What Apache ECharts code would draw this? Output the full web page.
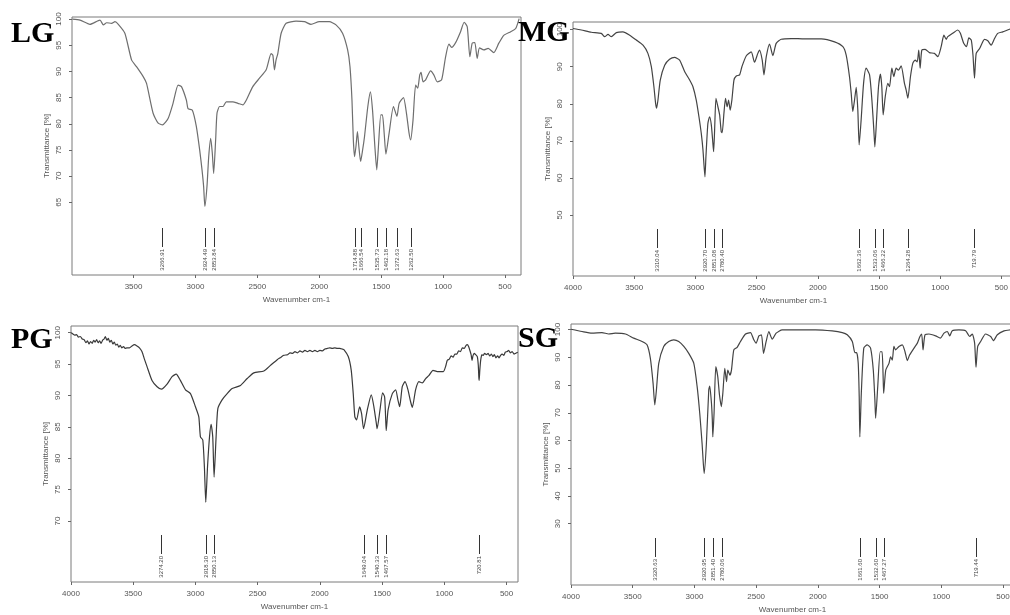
<!DOCTYPE html>
<html>
<head>
<meta charset="utf-8">
<script src="https://cdn.jsdelivr.net/npm/echarts@6/dist/echarts.min.js"></script>
<style>
html,body{margin:0;padding:0;background:#fff;}
#chart{width:1010px;height:615px;}
</style>
</head>
<body>
<div id="chart"></div>
<script>
// ---------- DATA ----------
const panelNames = ['LG', 'MG', 'PG', 'SG'];

const lgSpectrum = [[3994,100],[3932,99.8],[3852,99.0],[3771,99.8],[3744,98.9],[3717,99.3],[3677,99.2],[3650,99.5],[3623,99.0],[3570,97.3],[3516,92.2],[3476,90.9],[3422,89.0],[3395,87.7],[3342,82.0],[3301,80.1],[3265,79.8],[3221,81.0],[3181,83.9],[3140,87.4],[3113,87.1],[3073,84.5],[3060,82.9],[3025,82.6],[2993,79.5],[2966,75.0],[2947,71.2],[2934,68.0],[2924,64.2],[2907,68.0],[2893,73.7],[2877,77.2],[2864,74.4],[2853,70.5],[2837,76.9],[2826,82.0],[2805,83.3],[2778,83.3],[2751,84.2],[2698,84.2],[2657,83.9],[2617,83.6],[2590,84.5],[2537,87.1],[2483,88.7],[2429,90.3],[2389,93.4],[2375,93.1],[2362,90.3],[2349,92.2],[2335,93.4],[2308,97.3],[2268,99.2],[2188,99.6],[2120,99.5],[2067,99.0],[2000,99.5],[1919,99.5],[1865,98.9],[1812,97.3],[1771,94.1],[1752,90.9],[1736,84.5],[1725,76.9],[1715,73.7],[1704,75.6],[1692,78.5],[1680,75.5],[1666,72.8],[1650,75.0],[1635,77.5],[1608,83.3],[1587,86.1],[1570,82.6],[1551,75.6],[1536,71.2],[1524,75.0],[1503,81.7],[1490,81.7],[1476,78.2],[1462,74.2],[1436,78.2],[1401,83.3],[1373,81.4],[1355,83.9],[1320,85.0],[1296,82.0],[1275,78.2],[1262,76.9],[1243,80.7],[1222,87.4],[1205,86.8],[1189,89.3],[1178,89.8],[1162,88.0],[1141,88.4],[1101,90.1],[1074,89.3],[1047,88.0],[1012,88.4],[980,92.8],[953,95.2],[931,94.6],[899,95.5],[859,97.6],[830,99.4],[805,98.5],[784,92.8],[765,95.4],[744,95.5],[725,92.5],[706,94.5],[671,94.1],[636,94.4],[591,93.6],[550,95.4],[510,96.9],[454,97.6],[414,98.2],[386,100.1]];

const mgSpectrum = [[4000,100.3],[3932,99.9],[3850,99.3],[3769,99.0],[3741,98.1],[3714,98.7],[3687,98.1],[3646,99.2],[3592,99.4],[3537,98.5],[3483,97.2],[3428,95.8],[3388,93.6],[3360,90.0],[3339,84.6],[3325,80.1],[3317,78.8],[3306,81.0],[3287,86.4],[3251,90.4],[3211,92.0],[3170,92.5],[3129,91.8],[3088,88.7],[3047,86.4],[3020,84.6],[2993,81.0],[2971,76.5],[2952,72.0],[2938,67.5],[2922,60.3],[2914,65.7],[2898,74.7],[2884,76.5],[2870,74.3],[2857,69.3],[2851,67.1],[2843,72.9],[2832,81.5],[2816,79.2],[2802,77.0],[2789,72.5],[2781,72.2],[2767,77.4],[2754,81.5],[2741,79.2],[2729,81.0],[2716,78.3],[2702,81.0],[2685,86.4],[2666,87.5],[2639,87.8],[2620,90.0],[2585,92.9],[2544,94.0],[2517,91.2],[2490,93.6],[2476,94.5],[2454,91.8],[2440,87.8],[2421,92.7],[2394,96.1],[2367,93.0],[2340,96.3],[2299,97.4],[2217,97.6],[2108,97.5],[1972,97.5],[1863,96.7],[1795,95.4],[1768,93.1],[1741,87.3],[1727,82.8],[1714,77.9],[1700,81.0],[1686,84.4],[1673,78.3],[1662,68.9],[1646,75.6],[1626,85.5],[1605,89.6],[1577,87.8],[1558,81.0],[1542,72.9],[1534,68.4],[1520,75.6],[1504,84.6],[1488,88.0],[1477,84.6],[1466,77.0],[1449,81.9],[1428,85.5],[1414,84.6],[1395,89.6],[1379,87.3],[1360,89.6],[1341,89.1],[1319,90.2],[1292,85.5],[1278,83.7],[1264,81.5],[1243,87.3],[1224,90.9],[1205,91.8],[1188,91.3],[1175,94.5],[1164,89.6],[1150,94.5],[1123,94.7],[1088,93.8],[1047,93.6],[1019,92.7],[992,95.4],[970,98.5],[951,97.4],[938,98.1],[898,99.0],[857,99.9],[835,99.0],[808,96.3],[785,95.4],[766,97.8],[746,97.2],[732,93.1],[720,86.9],[706,93.6],[678,94.9],[638,97.4],[611,97.0],[584,95.8],[556,97.6],[530,99.0],[489,99.4],[434,100.1],[405,100.3]];

const pgSpectrum = [[4000,100.0],[3985,99.8],[3970,99.6],[3955,99.7],[3940,99.3],[3925,99.4],[3910,99.0],[3895,98.9],[3880,98.4],[3868,98.7],[3855,98.2],[3843,98.6],[3830,98.3],[3818,98.8],[3806,98.5],[3794,98.9],[3782,98.4],[3770,98.7],[3758,98.3],[3746,98.8],[3734,99.0],[3724,99.4],[3712,98.8],[3700,99.1],[3688,98.5],[3676,98.8],[3664,98.2],[3652,98.5],[3640,98.0],[3628,98.2],[3616,97.7],[3604,98.0],[3592,97.6],[3578,97.8],[3565,97.5],[3550,97.6],[3530,97.6],[3510,97.9],[3490,98.1],[3470,97.9],[3450,97.6],[3430,97.0],[3410,95.8],[3389,94.6],[3349,92.4],[3308,91.4],[3273,91.0],[3228,91.8],[3188,93.0],[3155,93.4],[3121,92.4],[3080,90.9],[3040,90.3],[3000,88.2],[2973,86.6],[2960,83.4],[2941,82.9],[2928,78.6],[2917,73.0],[2903,78.6],[2887,83.4],[2874,85.4],[2861,83.4],[2850,77.0],[2834,83.4],[2820,87.9],[2786,89.3],[2745,90.3],[2705,91.1],[2638,91.6],[2584,92.7],[2531,93.6],[2450,93.9],[2397,94.8],[2343,95.7],[2320,96.0],[2290,96.4],[2260,96.5],[2240,96.8],[2220,96.7],[2200,97.0],[2180,96.8],[2160,97.1],[2140,96.9],[2120,97.2],[2100,97.0],[2080,97.2],[2060,97.0],[2040,97.2],[2020,97.0],[2000,97.2],[1980,97.1],[1960,97.4],[1940,97.5],[1920,97.6],[1900,97.5],[1880,97.6],[1860,97.5],[1840,97.5],[1820,97.4],[1807,97.3],[1772,96.2],[1748,94.0],[1732,90.3],[1719,86.6],[1705,86.1],[1681,88.2],[1665,87.1],[1649,84.7],[1619,87.7],[1587,90.1],[1566,88.2],[1546,85.5],[1540,84.7],[1517,87.7],[1496,90.4],[1480,89.8],[1472,86.6],[1467,84.4],[1452,87.7],[1418,90.3],[1391,90.9],[1373,89.3],[1359,88.2],[1338,91.4],[1316,92.2],[1292,90.9],[1271,89.0],[1257,88.1],[1231,90.9],[1204,92.2],[1177,92.0],[1150,92.7],[1123,93.2],[1091,94.0],[1056,93.8],[1008,93.8],[990,94.6],[976,95.6],[960,95.8],[945,96.3],[930,96.1],[915,96.6],[900,96.6],[885,97.1],[870,97.0],[855,97.6],[840,97.5],[825,98.0],[815,98.1],[805,97.8],[795,97.2],[785,96.5],[777,95.6],[770,96.3],[760,96.7],[748,96.5],[735,96.2],[727,94.8],[723,93.0],[720,92.4],[715,94.0],[708,95.6],[698,96.5],[688,96.4],[676,96.7],[662,96.5],[648,96.7],[635,96.3],[622,96.6],[610,96.2],[598,96.5],[585,96.0],[572,96.3],[560,96.0],[548,96.4],[535,96.6],[522,96.4],[510,96.9],[495,97.0],[483,97.2],[470,96.8],[455,97.0],[440,96.6],[429,96.7],[410,96.9]];

const sgSpectrum = [[4000,100.1],[3911,99.3],[3830,98.7],[3749,98.9],[3695,98.4],[3641,98.7],[3559,98.4],[3492,96.9],[3424,95.7],[3384,94.5],[3357,89.6],[3335,80.6],[3321,72.8],[3308,78.2],[3289,87.8],[3249,93.9],[3208,95.7],[3167,96.3],[3127,95.7],[3086,93.9],[3046,91.4],[3005,87.8],[2978,79.4],[2957,69.8],[2938,58.9],[2928,51.7],[2921,48.1],[2903,58.9],[2884,78.2],[2876,79.6],[2862,73.4],[2855,67.3],[2851,61.3],[2841,69.8],[2827,86.6],[2811,83.0],[2797,76.4],[2782,72.2],[2770,77.0],[2754,86.0],[2740,81.2],[2730,85.4],[2713,83.6],[2700,85.4],[2681,92.7],[2654,93.6],[2627,95.7],[2586,98.4],[2546,98.9],[2519,96.3],[2500,95.1],[2478,97.7],[2457,98.1],[2440,91.4],[2419,95.7],[2397,99.3],[2370,96.5],[2338,98.7],[2289,99.9],[2181,99.9],[2019,99.9],[1884,99.5],[1802,98.9],[1762,98.1],[1721,95.7],[1700,91.7],[1686,91.7],[1673,87.8],[1665,75.8],[1660,61.3],[1648,77.0],[1628,93.3],[1600,94.5],[1573,93.3],[1551,85.4],[1538,74.6],[1532,68.0],[1515,79.4],[1495,92.0],[1480,92.0],[1472,84.2],[1467,77.0],[1450,85.4],[1424,87.8],[1411,90.2],[1397,89.0],[1384,93.9],[1370,92.7],[1343,93.9],[1316,94.5],[1294,92.0],[1275,88.8],[1257,90.8],[1221,93.3],[1194,95.1],[1173,97.5],[1159,98.4],[1148,92.7],[1132,98.1],[1100,98.4],[1046,97.7],[1008,96.9],[978,98.7],[951,99.3],[932,97.7],[911,99.6],[857,99.9],[803,99.6],[770,97.5],[749,98.4],[730,95.1],[719,86.4],[705,93.9],[681,95.7],[641,98.4],[600,97.5],[578,96.0],[546,98.1],[492,99.5],[438,99.9],[419,100.0]];

const lgPeaks = [3266.91, 2924.49, 2853.84, 1714.88, 1666.54, 1535.73, 1462.18, 1372.63, 1262.50];
const mgPeaks = [3310.04, 2920.70, 2851.08, 2780.40, 1662.36, 1533.06, 1466.22, 1264.28, 719.79];
const pgPeaks = [3274.20, 2918.30, 2850.13, 1649.04, 1540.33, 1467.57, 720.81];
const sgPeaks = [3320.63, 2920.95, 2851.40, 2780.06, 1661.60, 1532.60, 1467.27, 719.44];

const lgXTicks = [3500, 3000, 2500, 2000, 1500, 1000, 500];
const fullXTicks = [4000, 3500, 3000, 2500, 2000, 1500, 1000, 500];
const lgYTicks = [65, 70, 75, 80, 85, 90, 95, 100];
const mgYTicks = [50, 60, 70, 80, 90, 100];
const pgYTicks = [70, 75, 80, 85, 90, 95, 100];
const sgYTicks = [30, 40, 50, 60, 70, 80, 90, 100];

const xTitle = 'Wavenumber cm-1';
const yTitle = 'Transmittance [%]';

// ---------- LAYOUT ----------
const panels = [
  {name: panelNames[0], data: lgSpectrum, peaks: lgPeaks, xt: lgXTicks, yt: lgYTicks,
   grid: {left: 72, top: 17, width: 449, height: 258}, xmin: 371, xmax: 3997, ymin: 51.1, ymax: 100.4,
   color: '#6e6e6e', title: {x: 11, y: 34}},
  {name: panelNames[1], data: mgSpectrum, peaks: mgPeaks, xt: fullXTicks, yt: mgYTicks,
   grid: {left: 573, top: 22, width: 441, height: 254}, xmin: 397, xmax: 4000, ymin: 33.55, ymax: 102.06,
   color: '#444', title: {x: 518, y: 33}},
  {name: panelNames[2], data: pgSpectrum, peaks: pgPeaks, xt: fullXTicks, yt: pgYTicks,
   grid: {left: 71, top: 326, width: 447, height: 256}, xmin: 408, xmax: 4000, ymin: 60.28, ymax: 101.07,
   color: '#3a3a3a', title: {x: 11, y: 340}},
  {name: panelNames[3], data: sgSpectrum, peaks: sgPeaks, xt: fullXTicks, yt: sgYTicks,
   grid: {left: 571, top: 324, width: 443, height: 261}, xmin: 411, xmax: 4000, ymin: 7.9, ymax: 102.0,
   color: '#444', title: {x: 518, y: 339}}
];

const FONT = 'Liberation Sans';
const grids = [], xAxes = [], yAxes = [], series = [], graphics = [];
const plain = v => String(v);

panels.forEach((p, i) => {
  grids.push(Object.assign({show: true, borderColor: '#7a7a7a', borderWidth: 1, backgroundColor: 'transparent',
    containLabel: false, outerBoundsMode: 'none'}, p.grid));
  xAxes.push({
    type: 'value', gridIndex: i, inverse: true, min: p.xmin, max: p.xmax,
    axisLine: {show: false},
    axisTick: {show: true, length: 3, customValues: p.xt, lineStyle: {color: '#666'}},
    axisLabel: {customValues: p.xt, formatter: plain, fontSize: 8, color: '#555', margin: 8, fontFamily: FONT},
    splitLine: {show: false},
    name: xTitle, nameLocation: 'middle', nameGap: 21,
    nameTextStyle: {fontSize: 8, color: '#555', fontFamily: FONT}
  });
  yAxes.push({
    type: 'value', gridIndex: i, min: p.ymin, max: p.ymax,
    axisLine: {show: false},
    axisTick: {show: true, length: 3, customValues: p.yt, lineStyle: {color: '#666'}},
    axisLabel: {customValues: p.yt, formatter: plain, fontSize: 8, color: '#555', margin: 9, rotate: 90, fontFamily: FONT},
    splitLine: {show: false},
    name: yTitle, nameLocation: 'middle', nameGap: 21,
    nameTextStyle: {fontSize: 8, color: '#555', fontFamily: FONT}
  });
  series.push({
    type: 'line', xAxisIndex: i, yAxisIndex: i, data: p.data,
    showSymbol: false, smooth: 0.2, clip: true,
    lineStyle: {color: p.color, width: 1.2}, animation: false
  });
  series.push({
    type: 'custom', xAxisIndex: i, yAxisIndex: i,
    data: p.peaks.map(v => [v, p.ymax]),
    clip: false, animation: false,
    renderItem: function (params, api) {
      const x = Math.round(api.coord([api.value(0), api.value(1)])[0]) + 0.5;
      const cs = params.coordSys;
      const b = cs.y + cs.height;
      return {
        type: 'group',
        children: [
          {type: 'line', shape: {x1: x, y1: b - 47, x2: x, y2: b - 28}, style: {stroke: '#333', lineWidth: 1}},
          {type: 'text', x: x, y: b - 26, rotation: Math.PI / 2,
           style: {text: api.value(0).toFixed(2), align: 'right', verticalAlign: 'middle', fontSize: 6, fill: '#444', fontFamily: FONT}}
        ]
      };
    }
  });
  graphics.push({
    type: 'text', x: p.title.x, y: p.title.y, z: 100,
    style: {text: p.name, fontSize: 30, fontWeight: 'bold', fontFamily: 'Liberation Serif', fill: '#000', verticalAlign: 'middle', align: 'left'}
  });
});

const chart = echarts.init(document.getElementById('chart'), null, {renderer: 'canvas'});
chart.setOption({
  animation: false,
  backgroundColor: '#fff',
  grid: grids,
  xAxis: xAxes,
  yAxis: yAxes,
  series: series,
  graphic: graphics
});
</script>
</body>
</html>
